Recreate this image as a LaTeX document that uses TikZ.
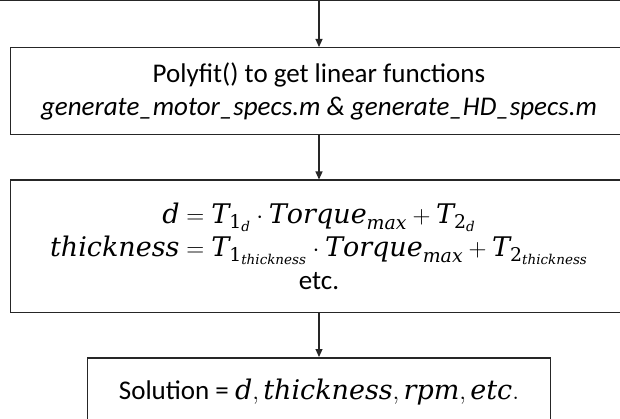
\documentclass[tikz,border=0pt]{standalone}
\usepackage{amsmath}
\usepackage{fontspec}
\setmainfont{Carlito}
\newfontfamily\eqfont[NFSSFamily=eqserif]{DejaVu Serif}
\DeclareMathAlphabet{\mv}{TU}{eqserif}{m}{it}
\DeclareMathAlphabet{\mn}{TU}{eqserif}{m}{n}
\usepackage{tikz}
\usetikzlibrary{arrows.meta,positioning}
\tikzset{
  stagebox/.style={draw=black!85,line width=1.5pt,align=center,inner sep=0pt,
    font=\fontsize{27}{33}\selectfont},
  flowarrow/.style={-{Triangle[length=8pt,width=7pt]},line width=1.1pt,draw=black!85}
}

\begin{document}
\begin{tikzpicture}[x=1pt,y=-1pt,node distance=44pt]
  \useasboundingbox (0,0) rectangle (620,419);
  \clip (0,0) rectangle (620,419);
  \node[stagebox,minimum width=700pt,minimum height=60pt,anchor=south] (prev) at (319,1.5) {};
  \node[stagebox,minimum width=617pt,minimum height=87pt,anchor=north] (fit) at (319,47)
    {Polyfit() to get linear functions\\
     \textit{generate\_motor\_specs.m \& generate\_HD\_specs.m}};
  \node[stagebox,minimum width=617pt,minimum height=132pt,below=of fit] (eqs)
    {$\mv{d} = \mv{T}_{\mn{1}_{\mv{d}}}\cdot \mv{Torque}_{\mv{max}} + \mv{T}_{\mn{2}_{\mv{d}}}$\\
     $\mv{thickness} = \mv{T}_{\mn{1}_{\mv{thickness}}}\cdot \mv{Torque}_{\mv{max}}
       + \mv{T}_{\mn{2}_{\mv{thickness}}}$\\
     etc.};
  \node[stagebox,minimum width=463pt,minimum height=68pt,below=of eqs] (sol)
    {Solution = $\mv{d}, \mv{thickness}, \mv{rpm}, \mv{etc}.$};
  \draw[flowarrow] (prev) -- (fit);
  \draw[flowarrow] (fit) -- (eqs);
  \draw[flowarrow] (eqs) -- (sol);
\end{tikzpicture}
\end{document}
